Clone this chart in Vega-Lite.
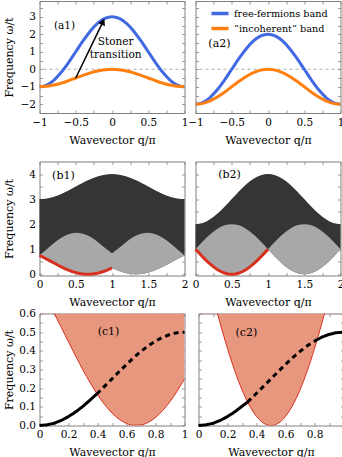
{
"$schema":"https://vega.github.io/schema/vega-lite/v6.json",
"padding":{"left":2.5,"top":0,"right":0,"bottom":0},
"background":"white",
"config":{
 "font":"DejaVu Serif",
 "view":{"stroke":"#808080","strokeWidth":1},
 "axis":{"domain":false,"grid":false,"ticks":true,"tickSize":-3,"tickColor":"#808080","tickWidth":0.8,"labelFont":"DejaVu Serif","labelFontSize":10.5,"labelColor":"#000","labelPadding":7,"labelOverlap":false,"labelFlush":false,"titleFont":"DejaVu Serif","titleFontSize":11,"titleFontWeight":"normal","titleColor":"#000"},
 "text":{"font":"DejaVu Serif","fontSize":11,"color":"#000"}
},
"datasets":{
 "bands":[
  {"p":"a1","q":-1,"f":-1,"i":-1},{"p":"a1","q":-0.9,"f":-0.902,"i":-0.976},{"p":"a1","q":-0.8,"f":-0.618,"i":-0.905},{"p":"a1","q":-0.7,"f":-0.176,"i":-0.794},{"p":"a1","q":-0.6,"f":0.382,"i":-0.655},{"p":"a1","q":-0.5,"f":1,"i":-0.5},{"p":"a1","q":-0.4,"f":1.618,"i":-0.346},{"p":"a1","q":-0.3,"f":2.176,"i":-0.206},{"p":"a1","q":-0.2,"f":2.618,"i":-0.096},{"p":"a1","q":-0.1,"f":2.902,"i":-0.024},{"p":"a1","q":0,"f":3,"i":0},
  {"p":"a1","q":0.1,"f":2.902,"i":-0.024},{"p":"a1","q":0.2,"f":2.618,"i":-0.096},{"p":"a1","q":0.3,"f":2.176,"i":-0.206},{"p":"a1","q":0.4,"f":1.618,"i":-0.346},{"p":"a1","q":0.5,"f":1,"i":-0.5},{"p":"a1","q":0.6,"f":0.382,"i":-0.655},{"p":"a1","q":0.7,"f":-0.176,"i":-0.794},{"p":"a1","q":0.8,"f":-0.618,"i":-0.905},{"p":"a1","q":0.9,"f":-0.902,"i":-0.976},{"p":"a1","q":1,"f":-1,"i":-1},
  {"p":"a2","q":-1,"f":-2,"i":-2},{"p":"a2","q":-0.9,"f":-1.902,"i":-1.951},{"p":"a2","q":-0.8,"f":-1.618,"i":-1.809},{"p":"a2","q":-0.7,"f":-1.176,"i":-1.588},{"p":"a2","q":-0.6,"f":-0.618,"i":-1.309},{"p":"a2","q":-0.5,"f":0,"i":-1},{"p":"a2","q":-0.4,"f":0.618,"i":-0.691},{"p":"a2","q":-0.3,"f":1.176,"i":-0.412},{"p":"a2","q":-0.2,"f":1.618,"i":-0.191},{"p":"a2","q":-0.1,"f":1.902,"i":-0.049},{"p":"a2","q":0,"f":2,"i":0},
  {"p":"a2","q":0.1,"f":1.902,"i":-0.049},{"p":"a2","q":0.2,"f":1.618,"i":-0.191},{"p":"a2","q":0.3,"f":1.176,"i":-0.412},{"p":"a2","q":0.4,"f":0.618,"i":-0.691},{"p":"a2","q":0.5,"f":0,"i":-1},{"p":"a2","q":0.6,"f":-0.618,"i":-1.309},{"p":"a2","q":0.7,"f":-1.176,"i":-1.588},{"p":"a2","q":0.8,"f":-1.618,"i":-1.809},{"p":"a2","q":0.9,"f":-1.902,"i":-1.951},{"p":"a2","q":1,"f":-2,"i":-2}
 ],
 "arrow":[{"q":-0.5,"w":-0.5},{"q":-0.124,"w":2.72}],
 "head":[{"q":-0.124,"w":2.72}],
 "cont":[
  {"p":"b1","q":0,"U":3,"L":0.75,"D":0.75},{"p":"b1","q":0.05,"U":3.006,"L":0.679,"D":0.88},{"p":"b1","q":0.1,"U":3.025,"L":0.604,"D":1.0},{"p":"b1","q":0.15,"U":3.055,"L":0.526,"D":1.13},{"p":"b1","q":0.2,"U":3.096,"L":0.448,"D":1.25},{"p":"b1","q":0.25,"U":3.146,"L":0.371,"D":1.36},{"p":"b1","q":0.3,"U":3.206,"L":0.297,"D":1.46},{"p":"b1","q":0.35,"U":3.273,"L":0.228,"D":1.54},{"p":"b1","q":0.4,"U":3.346,"L":0.166,"D":1.6},{"p":"b1","q":0.45,"U":3.422,"L":0.111,"D":1.64},{"p":"b1","q":0.5,"U":3.5,"L":0.067,"D":1.66},
  {"p":"b1","q":0.55,"U":3.578,"L":0.033,"D":1.65},{"p":"b1","q":0.6,"U":3.655,"L":0.011,"D":1.62},{"p":"b1","q":0.65,"U":3.727,"L":0.001,"D":1.57},{"p":"b1","q":0.7,"U":3.794,"L":0.003,"D":1.5},{"p":"b1","q":0.75,"U":3.854,"L":0.017,"D":1.41},{"p":"b1","q":0.8,"U":3.905,"L":0.043,"D":1.3},{"p":"b1","q":0.85,"U":3.946,"L":0.081,"D":1.18},{"p":"b1","q":0.9,"U":3.976,"L":0.128,"D":1.06},{"p":"b1","q":0.95,"U":3.994,"L":0.185,"D":0.95},{"p":"b1","q":1,"U":4,"L":0.25,"D":0.84},
  {"p":"b1","q":1.05,"U":3.994,"L":0.185,"D":0.95},{"p":"b1","q":1.1,"U":3.976,"L":0.128,"D":1.06},{"p":"b1","q":1.15,"U":3.946,"L":0.081,"D":1.18},{"p":"b1","q":1.2,"U":3.905,"L":0.043,"D":1.3},{"p":"b1","q":1.25,"U":3.854,"L":0.017,"D":1.41},{"p":"b1","q":1.3,"U":3.794,"L":0.003,"D":1.5},{"p":"b1","q":1.35,"U":3.727,"L":0.001,"D":1.57},{"p":"b1","q":1.4,"U":3.655,"L":0.011,"D":1.62},{"p":"b1","q":1.45,"U":3.578,"L":0.033,"D":1.65},{"p":"b1","q":1.5,"U":3.5,"L":0.067,"D":1.66},
  {"p":"b1","q":1.55,"U":3.422,"L":0.111,"D":1.64},{"p":"b1","q":1.6,"U":3.346,"L":0.166,"D":1.6},{"p":"b1","q":1.65,"U":3.273,"L":0.228,"D":1.54},{"p":"b1","q":1.7,"U":3.206,"L":0.297,"D":1.46},{"p":"b1","q":1.75,"U":3.146,"L":0.371,"D":1.36},{"p":"b1","q":1.8,"U":3.096,"L":0.448,"D":1.25},{"p":"b1","q":1.85,"U":3.055,"L":0.526,"D":1.13},{"p":"b1","q":1.9,"U":3.025,"L":0.604,"D":1.0},{"p":"b1","q":1.95,"U":3.006,"L":0.679,"D":0.88},{"p":"b1","q":2,"U":3,"L":0.75,"D":0.75},
  {"p":"b2","q":0,"U":2,"L":1,"D":1},{"p":"b2","q":0.05,"U":2.012,"L":0.844,"D":1.156},{"p":"b2","q":0.1,"U":2.049,"L":0.691,"D":1.309},{"p":"b2","q":0.15,"U":2.109,"L":0.546,"D":1.454},{"p":"b2","q":0.2,"U":2.191,"L":0.412,"D":1.588},{"p":"b2","q":0.25,"U":2.293,"L":0.293,"D":1.707},{"p":"b2","q":0.3,"U":2.412,"L":0.191,"D":1.809},{"p":"b2","q":0.35,"U":2.546,"L":0.109,"D":1.891},{"p":"b2","q":0.4,"U":2.691,"L":0.049,"D":1.951},{"p":"b2","q":0.45,"U":2.844,"L":0.012,"D":1.988},{"p":"b2","q":0.5,"U":3,"L":0,"D":2},
  {"p":"b2","q":0.55,"U":3.156,"L":0.012,"D":1.988},{"p":"b2","q":0.6,"U":3.309,"L":0.049,"D":1.951},{"p":"b2","q":0.65,"U":3.454,"L":0.109,"D":1.891},{"p":"b2","q":0.7,"U":3.588,"L":0.191,"D":1.809},{"p":"b2","q":0.75,"U":3.707,"L":0.293,"D":1.707},{"p":"b2","q":0.8,"U":3.809,"L":0.412,"D":1.588},{"p":"b2","q":0.85,"U":3.891,"L":0.546,"D":1.454},{"p":"b2","q":0.9,"U":3.951,"L":0.691,"D":1.309},{"p":"b2","q":0.95,"U":3.988,"L":0.844,"D":1.156},{"p":"b2","q":1,"U":4,"L":1,"D":1},
  {"p":"b2","q":1.05,"U":3.988,"L":0.844,"D":1.156},{"p":"b2","q":1.1,"U":3.951,"L":0.691,"D":1.309},{"p":"b2","q":1.15,"U":3.891,"L":0.546,"D":1.454},{"p":"b2","q":1.2,"U":3.809,"L":0.412,"D":1.588},{"p":"b2","q":1.25,"U":3.707,"L":0.293,"D":1.707},{"p":"b2","q":1.3,"U":3.588,"L":0.191,"D":1.809},{"p":"b2","q":1.35,"U":3.454,"L":0.109,"D":1.891},{"p":"b2","q":1.4,"U":3.309,"L":0.049,"D":1.951},{"p":"b2","q":1.45,"U":3.156,"L":0.012,"D":1.988},{"p":"b2","q":1.5,"U":3,"L":0,"D":2},
  {"p":"b2","q":1.55,"U":2.844,"L":0.012,"D":1.988},{"p":"b2","q":1.6,"U":2.691,"L":0.049,"D":1.951},{"p":"b2","q":1.65,"U":2.546,"L":0.109,"D":1.891},{"p":"b2","q":1.7,"U":2.412,"L":0.191,"D":1.809},{"p":"b2","q":1.75,"U":2.293,"L":0.293,"D":1.707},{"p":"b2","q":1.8,"U":2.191,"L":0.412,"D":1.588},{"p":"b2","q":1.85,"U":2.109,"L":0.546,"D":1.454},{"p":"b2","q":1.9,"U":2.049,"L":0.691,"D":1.309},{"p":"b2","q":1.95,"U":2.012,"L":0.844,"D":1.156},{"p":"b2","q":2,"U":2,"L":1,"D":1}
 ],
 "cW":[
  {"p":"c1","g":"a","s":"s","q":0,"w":0},{"p":"c1","g":"a","s":"s","q":0.05,"w":0.003},{"p":"c1","g":"a","s":"s","q":0.1,"w":0.012},{"p":"c1","g":"a","s":"s","q":0.15,"w":0.027},{"p":"c1","g":"a","s":"s","q":0.2,"w":0.048},{"p":"c1","g":"a","s":"s","q":0.25,"w":0.073},{"p":"c1","g":"a","s":"s","q":0.3,"w":0.103},{"p":"c1","g":"a","s":"s","q":0.35,"w":0.137},{"p":"c1","g":"a","s":"s","q":0.395,"w":0.169},
  {"p":"c1","g":"b","s":"d","q":0.395,"w":0.169},{"p":"c1","g":"b","s":"d","q":0.45,"w":0.211},{"p":"c1","g":"b","s":"d","q":0.5,"w":0.25},{"p":"c1","g":"b","s":"d","q":0.55,"w":0.289},{"p":"c1","g":"b","s":"d","q":0.6,"w":0.327},{"p":"c1","g":"b","s":"d","q":0.65,"w":0.364},{"p":"c1","g":"b","s":"d","q":0.7,"w":0.397},{"p":"c1","g":"b","s":"d","q":0.75,"w":0.427},{"p":"c1","g":"b","s":"d","q":0.8,"w":0.452},{"p":"c1","g":"b","s":"d","q":0.85,"w":0.473},{"p":"c1","g":"b","s":"d","q":0.9,"w":0.488},{"p":"c1","g":"b","s":"d","q":0.95,"w":0.497},{"p":"c1","g":"b","s":"d","q":1,"w":0.5},
  {"p":"c2","g":"a","s":"s","q":0,"w":0},{"p":"c2","g":"a","s":"s","q":0.05,"w":0.003},{"p":"c2","g":"a","s":"s","q":0.1,"w":0.012},{"p":"c2","g":"a","s":"s","q":0.15,"w":0.027},{"p":"c2","g":"a","s":"s","q":0.2,"w":0.048},{"p":"c2","g":"a","s":"s","q":0.25,"w":0.073},{"p":"c2","g":"a","s":"s","q":0.3,"w":0.103},{"p":"c2","g":"a","s":"s","q":0.338,"w":0.125},
  {"p":"c2","g":"b","s":"d","q":0.338,"w":0.125},{"p":"c2","g":"b","s":"d","q":0.4,"w":0.173},{"p":"c2","g":"b","s":"d","q":0.45,"w":0.211},{"p":"c2","g":"b","s":"d","q":0.5,"w":0.25},{"p":"c2","g":"b","s":"d","q":0.55,"w":0.289},{"p":"c2","g":"b","s":"d","q":0.6,"w":0.327},{"p":"c2","g":"b","s":"d","q":0.65,"w":0.364},{"p":"c2","g":"b","s":"d","q":0.7,"w":0.397},{"p":"c2","g":"b","s":"d","q":0.75,"w":0.427},{"p":"c2","g":"b","s":"d","q":0.818,"w":0.46},
  {"p":"c2","g":"c","s":"s","q":0.818,"w":0.46},{"p":"c2","g":"c","s":"s","q":0.85,"w":0.473},{"p":"c2","g":"c","s":"s","q":0.9,"w":0.488},{"p":"c2","g":"c","s":"s","q":0.95,"w":0.497},{"p":"c2","g":"c","s":"s","q":1,"w":0.5}
 ],
 "labels":[
  {"p":"a1","q":-0.655,"w":2.47,"t":"(a1)"},{"p":"a1","q":0.05,"w":1.55,"t":"Stoner"},{"p":"a1","q":0.05,"w":0.84,"t":"transition"},
  {"p":"a2","q":-0.67,"w":1.44,"t":"(a2)"},{"p":"b1","q":0.33,"w":3.92,"t":"(b1)"},{"p":"b2","q":0.47,"w":3.96,"t":"(b2)"},
  {"p":"c1","q":0.476,"w":0.5,"t":"(c1)"},{"p":"c2","q":0.33,"w":0.494,"t":"(c2)"}
 ]
},
"spacing":14.5,
"vconcat":[
 {"hconcat":[
  {"width":145,"height":112,"resolve":{"axis":{"x":"independent","y":"independent"}},
   "layer":[
    {"data":{"name":"bands"},"transform":[{"filter":"datum.p=='a1'"}],"mark":{"type":"point","opacity":0},
     "encoding":{"x":{"field":"q","type":"quantitative","scale":{"domain":[-1,1],"nice":false,"zero":false},"axis":{"orient":"top","values":[-1,-0.75,-0.5,-0.25,0,0.25,0.5,0.75,1],"labels":false,"title":null}},
                 "y":{"field":"f","type":"quantitative","scale":{"domain":[-2.5,3.9],"nice":false,"zero":false},"axis":{"orient":"right","values":[-2.5,-2,-1.5,-1,-0.5,0,0.5,1,1.5,2,2.5,3,3.5],"labels":false,"title":null}}}},
    {"data":{"values":[{}]},"mark":{"type":"rule","color":"#999999","strokeDash":[3,3],"strokeWidth":0.8},
     "encoding":{"y":{"datum":0,"type":"quantitative","scale":{"domain":[-2.5,3.9],"nice":false,"zero":false},"axis":null}}},
    {"data":{"name":"bands"},"transform":[{"filter":"datum.p=='a1'"},{"fold":["f","i"],"as":["band","w"]}],"mark":{"type":"line","strokeWidth":3,"interpolate":"monotone","clip":true},
     "encoding":{"x":{"field":"q","type":"quantitative","scale":{"domain":[-1,1],"nice":false,"zero":false},"axis":{"values":[-1,-0.75,-0.5,-0.25,0,0.25,0.5,0.75,1],"labelExpr":"abs(datum.value*2-round(datum.value*2))<0.01?format(datum.value,'~g'):''","title":"Wavevector q/π","titleX":72.5,"titleY":27,"titleBaseline":"middle"}},
                 "y":{"field":"w","type":"quantitative","scale":{"domain":[-2.5,3.9],"nice":false,"zero":false},"axis":{"values":[-2.5,-2,-1.5,-1,-0.5,0,0.5,1,1.5,2,2.5,3,3.5],"labelExpr":"abs(datum.value-round(datum.value))<0.01?format(datum.value,'~g'):''","title":"Frequency ω/t","titleX":-30,"titleY":56,"titleBaseline":"middle"}},
                 "color":{"field":"band","type":"nominal","scale":{"domain":["f","i"],"range":["#4169e1","#ff7f0e"]},"legend":null}}},
    {"data":{"name":"arrow"},"mark":{"type":"line","color":"#000","strokeWidth":1.5},
     "encoding":{"x":{"field":"q","type":"quantitative","scale":{"domain":[-1,1],"nice":false,"zero":false},"axis":null},"y":{"field":"w","type":"quantitative","scale":{"domain":[-2.5,3.9],"nice":false,"zero":false},"axis":null}}},
    {"data":{"name":"head"},"mark":{"type":"point","shape":"triangle-up","filled":true,"color":"#000","opacity":1,"size":55,"angle":26},
     "encoding":{"x":{"field":"q","type":"quantitative","scale":{"domain":[-1,1],"nice":false,"zero":false},"axis":null},"y":{"field":"w","type":"quantitative","scale":{"domain":[-2.5,3.9],"nice":false,"zero":false},"axis":null}}},
    {"data":{"name":"labels"},"transform":[{"filter":"datum.p=='a1'"}],"mark":{"type":"text","fontSize":10.5},
     "encoding":{"x":{"field":"q","type":"quantitative","scale":{"domain":[-1,1],"nice":false,"zero":false},"axis":null},"y":{"field":"w","type":"quantitative","scale":{"domain":[-2.5,3.9],"nice":false,"zero":false},"axis":null},"text":{"field":"t"}}}
   ]},
  {"width":145,"height":112,"resolve":{"axis":{"x":"independent","y":"independent"}},
   "layer":[
    {"data":{"name":"bands"},"transform":[{"filter":"datum.p=='a2'"}],"mark":{"type":"point","opacity":0},
     "encoding":{"x":{"field":"q","type":"quantitative","scale":{"domain":[-1,1],"nice":false,"zero":false},"axis":{"orient":"top","values":[-1,-0.75,-0.5,-0.25,0,0.25,0.5,0.75,1],"labels":false,"title":null}},
                 "y":{"field":"f","type":"quantitative","scale":{"domain":[-2.5,3.9],"nice":false,"zero":false},"axis":{"orient":"right","values":[-2.5,-2,-1.5,-1,-0.5,0,0.5,1,1.5,2,2.5,3,3.5],"labels":false,"title":null}}}},
    {"data":{"values":[{}]},"mark":{"type":"rule","color":"#999999","strokeDash":[3,3],"strokeWidth":0.8},
     "encoding":{"y":{"datum":0,"type":"quantitative","scale":{"domain":[-2.5,3.9],"nice":false,"zero":false},"axis":null}}},
    {"data":{"name":"bands"},"transform":[{"filter":"datum.p=='a2'"},{"fold":["f","i"],"as":["band","w"]}],"mark":{"type":"line","strokeWidth":3,"interpolate":"monotone","clip":true},
     "encoding":{"x":{"field":"q","type":"quantitative","scale":{"domain":[-1,1],"nice":false,"zero":false},"axis":{"values":[-1,-0.75,-0.5,-0.25,0,0.25,0.5,0.75,1],"labelExpr":"abs(datum.value*2-round(datum.value*2))<0.01?format(datum.value,'~g'):''","title":"Wavevector q/π","titleX":72.5,"titleY":27,"titleBaseline":"middle"}},
                 "y":{"field":"w","type":"quantitative","scale":{"domain":[-2.5,3.9],"nice":false,"zero":false},"axis":{"values":[-2.5,-2,-1.5,-1,-0.5,0,0.5,1,1.5,2,2.5,3,3.5],"labels":false,"title":".","titleFontSize":1,"titleColor":"#ffffff","titleX":-7.5,"titleY":56,"titleBaseline":"middle"}},
                 "color":{"field":"band","type":"nominal","scale":{"domain":["f","i"],"range":["#4169e1","#ff7f0e"]},
                  "legend":{"orient":"none","legendX":16.5,"legendY":4.5,"title":null,"symbolType":"M-1.4,0L1.4,0","symbolStrokeWidth":3.5,"symbolSize":150,"labelExpr":"datum.value=='f'?'free-fermions band':'”incoherent” band'","labelFont":"DejaVu Serif","labelFontSize":9.7,"labelColor":"#000","rowPadding":0,"padding":0,"labelOffset":6}}}},
    {"data":{"name":"labels"},"transform":[{"filter":"datum.p=='a2'"}],"mark":{"type":"text"},
     "encoding":{"x":{"field":"q","type":"quantitative","scale":{"domain":[-1,1],"nice":false,"zero":false},"axis":null},"y":{"field":"w","type":"quantitative","scale":{"domain":[-2.5,3.9],"nice":false,"zero":false},"axis":null},"text":{"field":"t"}}}
   ]}
 ],"spacing":-2,"resolve":{"scale":{"color":"independent"},"legend":{"color":"independent"}}},
 {"vconcat":[
  {"hconcat":[
   {"width":145,"height":114,"resolve":{"axis":{"x":"independent","y":"independent"}},
    "layer":[
     {"data":{"name":"cont"},"transform":[{"filter":"datum.p=='b1'"}],"mark":{"type":"point","opacity":0},
      "encoding":{"x":{"field":"q","type":"quantitative","scale":{"domain":[0,2],"nice":false,"zero":false},"axis":{"orient":"top","values":[0,0.25,0.5,0.75,1,1.25,1.5,1.75,2],"labels":false,"title":null}},
                  "y":{"field":"U","type":"quantitative","scale":{"domain":[-0.05,4.5],"nice":false,"zero":false},"axis":{"orient":"right","values":[0,0.5,1,1.5,2,2.5,3,3.5,4],"labels":false,"title":null}}}},
     {"data":{"name":"cont"},"transform":[{"filter":"datum.p=='b1'"}],"mark":{"type":"area","color":"#353535"},
      "encoding":{"x":{"field":"q","type":"quantitative","scale":{"domain":[0,2],"nice":false,"zero":false},"axis":{"values":[0,0.25,0.5,0.75,1,1.25,1.5,1.75,2],"labelExpr":"abs(datum.value*2-round(datum.value*2))<0.01?format(datum.value,'~g'):''","title":"Wavevector q/π","titleX":72.5,"titleY":27,"titleBaseline":"middle"}},
                  "y":{"field":"U","type":"quantitative","scale":{"domain":[-0.05,4.5],"nice":false,"zero":false},"axis":{"values":[0,0.5,1,1.5,2,2.5,3,3.5,4],"labelExpr":"abs(datum.value-round(datum.value))<0.01?format(datum.value,'~g'):''","title":"Frequency ω/t","titleX":-30,"titleY":57,"titleBaseline":"middle"}},
                  "y2":{"field":"L"}}},
     {"data":{"name":"cont"},"transform":[{"filter":"datum.p=='b1'"}],"mark":{"type":"area","color":"#a8a8a8"},
      "encoding":{"x":{"field":"q","type":"quantitative","scale":{"domain":[0,2],"nice":false,"zero":false},"axis":null},
                  "y":{"field":"D","type":"quantitative","scale":{"domain":[-0.05,4.5],"nice":false,"zero":false},"axis":null},"y2":{"field":"L"}}},
     {"data":{"name":"cont"},"transform":[{"filter":"datum.p=='b1' && datum.q<=1.001"}],"mark":{"type":"line","color":"#d7301f","strokeWidth":3},
      "encoding":{"x":{"field":"q","type":"quantitative","scale":{"domain":[0,2],"nice":false,"zero":false},"axis":null},
                  "y":{"field":"L","type":"quantitative","scale":{"domain":[-0.05,4.5],"nice":false,"zero":false},"axis":null}}},
     {"data":{"name":"labels"},"transform":[{"filter":"datum.p=='b1'"}],"mark":{"type":"text"},
      "encoding":{"x":{"field":"q","type":"quantitative","scale":{"domain":[0,2],"nice":false,"zero":false},"axis":null},"y":{"field":"w","type":"quantitative","scale":{"domain":[-0.05,4.5],"nice":false,"zero":false},"axis":null},"text":{"field":"t"}}}
    ]},
   {"width":145,"height":114,"resolve":{"axis":{"x":"independent","y":"independent"}},
    "layer":[
     {"data":{"name":"cont"},"transform":[{"filter":"datum.p=='b2'"}],"mark":{"type":"point","opacity":0},
      "encoding":{"x":{"field":"q","type":"quantitative","scale":{"domain":[0,2],"nice":false,"zero":false},"axis":{"orient":"top","values":[0,0.25,0.5,0.75,1,1.25,1.5,1.75,2],"labels":false,"title":null}},
                  "y":{"field":"U","type":"quantitative","scale":{"domain":[-0.05,4.5],"nice":false,"zero":false},"axis":{"orient":"right","values":[0,0.5,1,1.5,2,2.5,3,3.5,4],"labels":false,"title":null}}}},
     {"data":{"name":"cont"},"transform":[{"filter":"datum.p=='b2'"}],"mark":{"type":"area","color":"#353535"},
      "encoding":{"x":{"field":"q","type":"quantitative","scale":{"domain":[0,2],"nice":false,"zero":false},"axis":{"values":[0,0.25,0.5,0.75,1,1.25,1.5,1.75,2],"labelExpr":"abs(datum.value*2-round(datum.value*2))<0.01?format(datum.value,'~g'):''","title":"Wavevector q/π","titleX":72.5,"titleY":27,"titleBaseline":"middle"}},
                  "y":{"field":"U","type":"quantitative","scale":{"domain":[-0.05,4.5],"nice":false,"zero":false},"axis":{"values":[0,0.5,1,1.5,2,2.5,3,3.5,4],"labels":false,"title":".","titleFontSize":1,"titleColor":"#ffffff","titleX":-7.5,"titleY":57,"titleBaseline":"middle"}},
                  "y2":{"field":"L"}}},
     {"data":{"name":"cont"},"transform":[{"filter":"datum.p=='b2'"}],"mark":{"type":"area","color":"#a8a8a8"},
      "encoding":{"x":{"field":"q","type":"quantitative","scale":{"domain":[0,2],"nice":false,"zero":false},"axis":null},
                  "y":{"field":"D","type":"quantitative","scale":{"domain":[-0.05,4.5],"nice":false,"zero":false},"axis":null},"y2":{"field":"L"}}},
     {"data":{"name":"cont"},"transform":[{"filter":"datum.p=='b2' && datum.q<=1.001"}],"mark":{"type":"line","color":"#d7301f","strokeWidth":3},
      "encoding":{"x":{"field":"q","type":"quantitative","scale":{"domain":[0,2],"nice":false,"zero":false},"axis":null},
                  "y":{"field":"L","type":"quantitative","scale":{"domain":[-0.05,4.5],"nice":false,"zero":false},"axis":null}}},
     {"data":{"name":"labels"},"transform":[{"filter":"datum.p=='b2'"}],"mark":{"type":"text"},
      "encoding":{"x":{"field":"q","type":"quantitative","scale":{"domain":[0,2],"nice":false,"zero":false},"axis":null},"y":{"field":"w","type":"quantitative","scale":{"domain":[-0.05,4.5],"nice":false,"zero":false},"axis":null},"text":{"field":"t"}}}
    ]}
  ],"spacing":-2},
  {"hconcat":[
   {"width":145,"height":112,"resolve":{"axis":{"x":"independent","y":"independent"}},
    "layer":[
     {"data":{"name":"cW"},"transform":[{"filter":"datum.p=='c1'"}],"mark":{"type":"point","opacity":0},
      "encoding":{"x":{"field":"q","type":"quantitative","scale":{"domain":[0,1],"nice":false,"zero":false},"axis":{"orient":"top","values":[0,0.1,0.2,0.3,0.4,0.5,0.6,0.7,0.8,0.9,1],"labels":false,"title":null}},
                  "y":{"field":"w","type":"quantitative","scale":{"domain":[0,0.6],"nice":false,"zero":false},"axis":{"orient":"right","values":[0,0.05,0.1,0.15,0.2,0.25,0.3,0.35,0.4,0.45,0.5,0.55,0.6],"labels":false,"title":null}}}},
     {"data":{"name":"cont"},"transform":[{"filter":"datum.p=='b1' && datum.q<=1.001"}],"mark":{"type":"area","color":"#e8977f","interpolate":"monotone","clip":true},
      "encoding":{"x":{"field":"q","type":"quantitative","scale":{"domain":[0,1],"nice":false,"zero":false},"axis":{"values":[0,0.1,0.2,0.3,0.4,0.5,0.6,0.7,0.8,0.9,1],"labelExpr":"abs(datum.value*5-round(datum.value*5))<0.01?format(datum.value,'~g'):''","title":"Wavevector q/π","titleX":72.5,"titleY":27,"titleBaseline":"middle"}},
                  "y":{"field":"L","type":"quantitative","scale":{"domain":[0,0.6],"nice":false,"zero":false},"axis":{"values":[0,0.05,0.1,0.15,0.2,0.25,0.3,0.35,0.4,0.45,0.5,0.55,0.6],"labelExpr":"abs(datum.value*10-round(datum.value*10))<0.01?format(datum.value,'.1f'):''","title":"Frequency ω/t","titleX":-30,"titleY":56,"titleBaseline":"middle"}},
                  "y2":{"datum":0.6}}},
     {"data":{"name":"cont"},"transform":[{"filter":"datum.p=='b1' && datum.q<=1.001"}],"mark":{"type":"line","color":"#d7301f","strokeWidth":1,"interpolate":"monotone","clip":true},
      "encoding":{"x":{"field":"q","type":"quantitative","scale":{"domain":[0,1],"nice":false,"zero":false},"axis":null},
                  "y":{"field":"L","type":"quantitative","scale":{"domain":[0,0.6],"nice":false,"zero":false},"axis":null}}},
     {"data":{"name":"cW"},"transform":[{"filter":"datum.p=='c1'"}],"mark":{"type":"line","color":"#000","strokeWidth":3,"strokeCap":"butt"},
      "encoding":{"x":{"field":"q","type":"quantitative","scale":{"domain":[0,1],"nice":false,"zero":false},"axis":null},
                  "y":{"field":"w","type":"quantitative","scale":{"domain":[0,0.6],"nice":false,"zero":false},"axis":null},
                  "detail":{"field":"g"},
                  "strokeDash":{"field":"s","type":"nominal","scale":{"domain":["s","d"],"range":[[1,0],[5,4]]},"legend":null}}},
     {"data":{"name":"labels"},"transform":[{"filter":"datum.p=='c1'"}],"mark":{"type":"text"},
      "encoding":{"x":{"field":"q","type":"quantitative","scale":{"domain":[0,1],"nice":false,"zero":false},"axis":null},"y":{"field":"w","type":"quantitative","scale":{"domain":[0,0.6],"nice":false,"zero":false},"axis":null},"text":{"field":"t"}}}
    ]},
   {"width":145,"height":112,"resolve":{"axis":{"x":"independent","y":"independent"}},
    "layer":[
     {"data":{"name":"cW"},"transform":[{"filter":"datum.p=='c2'"}],"mark":{"type":"point","opacity":0},
      "encoding":{"x":{"field":"q","type":"quantitative","scale":{"domain":[0,1],"nice":false,"zero":false},"axis":{"orient":"top","values":[0,0.1,0.2,0.3,0.4,0.5,0.6,0.7,0.8,0.9,1],"labels":false,"title":null}},
                  "y":{"field":"w","type":"quantitative","scale":{"domain":[0,0.6],"nice":false,"zero":false},"axis":{"orient":"right","values":[0,0.05,0.1,0.15,0.2,0.25,0.3,0.35,0.4,0.45,0.5,0.55,0.6],"labels":false,"title":null}}}},
     {"data":{"name":"cont"},"transform":[{"filter":"datum.p=='b2' && datum.q<=1.001"}],"mark":{"type":"area","color":"#e8977f","interpolate":"monotone","clip":true},
      "encoding":{"x":{"field":"q","type":"quantitative","scale":{"domain":[0,1],"nice":false,"zero":false},"axis":{"values":[0,0.1,0.2,0.3,0.4,0.5,0.6,0.7,0.8,0.9,1],"labelExpr":"abs(datum.value*5-round(datum.value*5))<0.01?format(datum.value,'~g'):''","title":"Wavevector q/π","titleX":72.5,"titleY":27,"titleBaseline":"middle"}},
                  "y":{"field":"L","type":"quantitative","scale":{"domain":[0,0.6],"nice":false,"zero":false},"axis":{"values":[0,0.05,0.1,0.15,0.2,0.25,0.3,0.35,0.4,0.45,0.5,0.55,0.6],"labels":false,"title":".","titleFontSize":1,"titleColor":"#ffffff","titleX":-7.5,"titleY":56,"titleBaseline":"middle"}},
                  "y2":{"datum":0.6}}},
     {"data":{"name":"cont"},"transform":[{"filter":"datum.p=='b2' && datum.q<=1.001"}],"mark":{"type":"line","color":"#d7301f","strokeWidth":1,"interpolate":"monotone","clip":true},
      "encoding":{"x":{"field":"q","type":"quantitative","scale":{"domain":[0,1],"nice":false,"zero":false},"axis":null},
                  "y":{"field":"L","type":"quantitative","scale":{"domain":[0,0.6],"nice":false,"zero":false},"axis":null}}},
     {"data":{"name":"cW"},"transform":[{"filter":"datum.p=='c2'"}],"mark":{"type":"line","color":"#000","strokeWidth":3,"strokeCap":"butt"},
      "encoding":{"x":{"field":"q","type":"quantitative","scale":{"domain":[0,1],"nice":false,"zero":false},"axis":null},
                  "y":{"field":"w","type":"quantitative","scale":{"domain":[0,0.6],"nice":false,"zero":false},"axis":null},
                  "detail":{"field":"g"},
                  "strokeDash":{"field":"s","type":"nominal","scale":{"domain":["s","d"],"range":[[1,0],[5,4]]},"legend":null}}},
     {"data":{"name":"labels"},"transform":[{"filter":"datum.p=='c2'"}],"mark":{"type":"text"},
      "encoding":{"x":{"field":"q","type":"quantitative","scale":{"domain":[0,1],"nice":false,"zero":false},"axis":null},"y":{"field":"w","type":"quantitative","scale":{"domain":[0,0.6],"nice":false,"zero":false},"axis":null},"text":{"field":"t"}}}
    ]}
  ],"spacing":-2}
 ],"spacing":-1}
]
}
